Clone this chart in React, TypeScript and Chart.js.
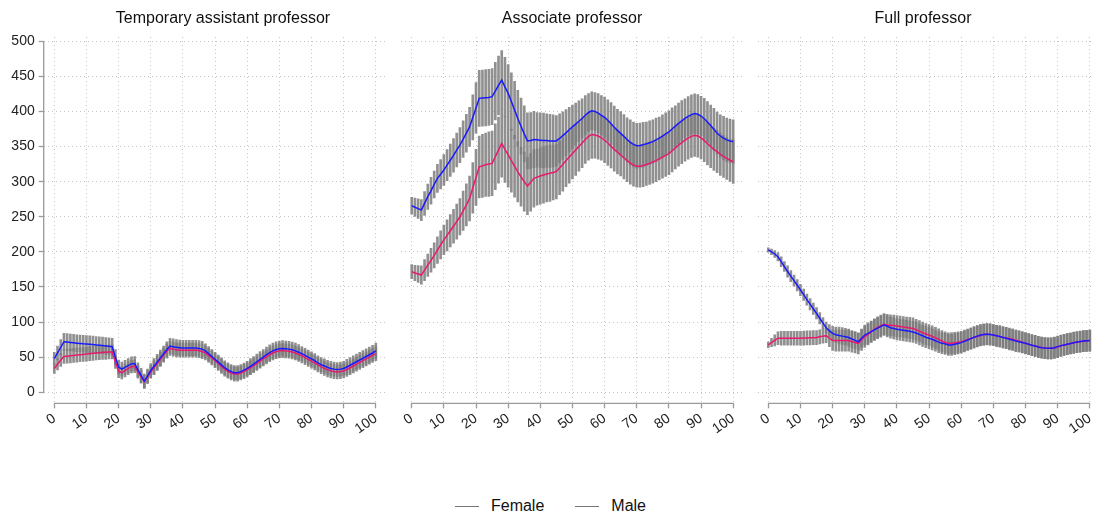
import React, { useEffect, useRef } from "react";
import { Chart, registerables } from "chart.js";

Chart.register(...registerables);

// ---------- data ----------
const xPositions = [
  0, 1, 2, 3, 4, 5, 6, 7, 8, 9, 10, 11, 12, 13, 14, 15, 16, 17, 18, 19, 20,
  21, 22, 23, 24, 25, 26, 27, 28, 29, 30, 31, 32, 33, 34, 35, 36, 37, 38, 39, 40,
  41, 42, 43, 44, 45, 46, 47, 48, 49, 50, 51, 52, 53, 54, 55, 56, 57, 58, 59, 60,
  61, 62, 63, 64, 65, 66, 67, 68, 69, 70, 71, 72, 73, 74, 75, 76, 77, 78, 79, 80,
  81, 82, 83, 84, 85, 86, 87, 88, 89, 90, 91, 92, 93, 94, 95, 96, 97, 98, 99, 100,
];
const xTickValues = [0, 10, 20, 30, 40, 50, 60, 70, 80, 90, 100];
const yTickValues = [0, 50, 100, 150, 200, 250, 300, 350, 400, 450, 500];
const panelTitles = ["Temporary assistant professor", "Associate professor", "Full professor"];
const seriesNames = ["Female", "Male"];

// Panel 1: Temporary assistant professor
const tempFemale = [
  34, 40, 46, 51, 51.5, 52, 52.5, 53, 53.5, 54,
  54.5, 55, 55.5, 56, 56.5, 57, 57, 57.5, 57.5, 43,
  30, 28, 31, 34, 36.5, 37, 29, 22, 15, 21.5,
  29, 35, 41, 47, 53, 58.5, 62.5, 61.5, 60.5, 60,
  60, 60, 60, 60, 60, 59.5, 58, 56, 52.5, 49,
  45, 41, 37, 33, 30, 27.5, 26, 26, 27.5, 29.5,
  32, 35, 38, 41, 44.5, 47.5, 50.5, 53.5, 56, 58,
  59, 59.5, 59, 58.5, 57.5, 56, 54, 52, 49.5, 47,
  44.5, 42, 39, 36.5, 34, 32, 30.5, 29.5, 29, 29.5,
  30.5, 32.5, 35, 37.5, 40, 42.5, 45, 47.5, 50, 52.5,
  55,
];
const tempMale = [
  48, 56, 64, 72, 71.5, 71, 70.5, 70, 69.5, 69,
  68.8, 68.5, 68, 67.5, 67, 66.5, 66, 65.5, 65, 50,
  36, 33, 35.5, 38, 40.5, 41, 32, 24, 16, 23,
  31, 37, 43, 49, 55, 61, 66, 65, 64, 63.5,
  63, 63, 63, 63, 63, 62.5, 61.5, 59, 55, 51,
  47, 43, 39, 35, 32, 29.5, 28, 28, 29.5, 31.5,
  34, 37, 40, 43.5, 47, 50, 53.5, 56.5, 59, 61,
  62, 62.5, 62, 61.5, 60.5, 59, 57, 55, 52.5, 50,
  47.5, 45, 42, 39.5, 37.5, 35.5, 34, 33, 32.5, 33,
  34, 36, 38.5, 41, 43.5, 46, 48.5, 51, 53.5, 56,
  59,
];
const tempFemaleCI = [
  7, 8, 9, 10, 10, 10, 10, 10, 10, 10,
  10, 10, 10, 10, 10, 10, 10, 10, 10, 9,
  9, 9, 9, 9, 9, 9, 9, 9, 9, 9,
  9, 10, 10, 10, 10, 10, 10, 10, 10, 10,
  10, 10, 10, 10, 10, 10, 10, 10, 10, 10,
  10, 10, 10, 10, 10, 10, 10, 10, 10, 10,
  10, 10, 10, 10, 10, 10, 10, 10, 10, 10,
  10, 10, 10, 10, 10, 10, 10, 10, 10, 10,
  10, 10, 10, 10, 10, 10, 10, 10, 10, 10,
  10, 10, 10, 10, 10, 10, 10, 10, 10, 10,
  10,
];
const tempMaleCI = [
  9, 10, 11, 12, 12, 12, 12, 12, 12, 12,
  12, 12, 12, 12, 12, 12, 12, 12, 12, 11,
  10, 10, 10, 10, 10, 10, 10, 10, 10, 10,
  10, 11, 11, 11, 11, 11, 11, 11, 11, 11,
  11, 11, 11, 11, 11, 11, 11, 10, 10, 10,
  10, 10, 10, 10, 10, 10, 10, 10, 10, 10,
  10, 11, 11, 11, 11, 11, 11, 11, 11, 11,
  11, 11, 11, 11, 11, 11, 11, 10, 10, 10,
  10, 10, 10, 10, 10, 10, 10, 10, 10, 10,
  10, 11, 11, 11, 11, 11, 11, 11, 11, 11,
  11,
];

// Panel 2: Associate professor
const assocFemale = [
  171.8, 170, 168.5, 167, 174, 181, 188, 195, 202.5, 210,
  217, 223.5, 230, 236.5, 243, 250, 258.5, 267, 276, 291,
  306, 321, 322.5, 324, 325, 326, 335.5, 345, 354.5, 346,
  338, 330, 322, 314, 307, 300, 293.8, 299, 304.7, 306.5,
  308, 309.5, 311, 312, 313, 314.5, 319.5, 324.5, 330, 335,
  340, 345, 350, 355, 360, 364.5, 367, 366.5, 365, 362.5,
  359, 355, 350.5, 346, 342, 338, 334, 330, 326.5, 323.5,
  322, 322, 323, 324.5, 326, 328, 330, 332.5, 335, 337.5,
  340, 344, 348, 352, 355.5, 359, 362, 364.5, 366, 365,
  362.5, 358.5, 354, 350, 346, 342.7, 339, 336, 333, 330.5,
  328.4,
];
const assocMale = [
  265.8, 263.5, 261.5, 259.6, 269, 278.6, 287, 296, 304.7, 310.5,
  316.6, 323.5, 330.5, 337.5, 345, 352, 360.5, 369, 378, 391.5,
  405, 418.6, 419, 419.5, 420, 421, 429, 437, 444.7, 435,
  425.7, 414, 402, 390, 379, 368, 358, 358.5, 360, 359.5,
  359, 358.5, 358.5, 358, 358, 358, 361.5, 365.5, 369.5, 374,
  378, 382, 386, 390, 394.5, 398.5, 401, 400, 397.5, 394.5,
  391.6, 387.5, 382.5, 377.5, 373, 368.8, 364.5, 360, 356, 353,
  351.2, 351.5, 352.5, 354, 355.5, 357, 359.5, 362, 365, 368,
  371, 375, 379, 383, 386.5, 390, 393, 395.5, 397, 396,
  393.5, 389.5, 385, 380, 374.5, 369, 365, 362, 359.5, 358,
  357,
];
const assocFemaleCI = [
  10, 11, 12, 13, 15, 16, 17, 18, 19, 20,
  21, 22, 23, 24, 25, 26, 28, 30, 32, 36,
  40, 44, 45, 45, 46, 46, 47, 47, 48, 47,
  46, 45, 44, 43, 42, 42, 41, 41, 41, 40,
  40, 40, 40, 40, 39, 39, 38, 38, 37, 37,
  36, 36, 35, 35, 34, 34, 34, 33, 33, 32,
  32, 32, 31, 31, 31, 30, 30, 30, 30, 30,
  30, 30, 30, 30, 30, 30, 30, 30, 30, 30,
  30, 30, 30, 30, 30, 30, 30, 30, 30, 30,
  30, 30, 30, 30, 30, 30, 30, 30, 30, 30,
  31,
];
const assocMaleCI = [
  12, 13, 14, 15, 17, 18, 19, 19, 20, 21,
  22, 22, 23, 24, 24, 25, 26, 27, 28, 32,
  36, 40, 40, 40, 40, 40, 41, 42, 42, 42,
  41, 41, 41, 40, 40, 40, 40, 40, 40, 39,
  39, 39, 38, 38, 37, 36, 35, 34, 33, 32,
  31, 30, 29, 28, 28, 27, 27, 27, 28, 28,
  29, 29, 30, 30, 30, 31, 31, 31, 32, 32,
  32, 32, 32, 31, 31, 31, 31, 30, 30, 30,
  30, 30, 29, 29, 29, 28, 28, 28, 28, 28,
  28, 29, 29, 29, 30, 30, 30, 31, 31, 31,
  31,
];

// Panel 3: Full professor
const fullFemale = [
  67.4, 71, 74, 77, 77, 77, 77, 77, 77, 77,
  77, 77.2, 77.4, 77.6, 77.8, 78, 79, 80, 80.7, 77,
  73.6, 73.6, 73.6, 73.6, 73.6, 73.6, 72, 71, 69.8, 74.5,
  79, 82.5, 86, 89.5, 92.5, 95, 97, 96, 95.5, 95,
  94.4, 93.7, 93, 92.3, 91.6, 91, 89, 87, 85, 83,
  81.6, 79.5, 77.5, 75.5, 73, 71, 69.8, 70, 70.5, 71.2,
  72, 73.5, 75, 76.5, 78, 79.5, 81, 82.3, 83, 82.5,
  81.6, 80.5, 79.5, 78.5, 77.5, 76.5, 75.5, 74, 72.8, 71.3,
  70, 68.5, 67.2, 66, 64.8, 63.8, 63, 62.7, 62.6, 63.2,
  64.5, 66, 67.5, 68.5, 69.5, 70.5, 71.3, 72, 72.8, 73.2,
  73.6,
];
const fullMale = [
  202.7, 200, 197, 193, 186, 179, 172, 165.5, 159, 152.5,
  145.7, 139, 132, 125.5, 119, 112.5, 105.5, 98.5, 92, 87.5,
  84, 82, 81, 80, 79, 78, 76, 74, 72, 77,
  81.6, 84, 86.5, 89, 91.5, 93.5, 96, 94, 92, 91,
  89.7, 89, 88.3, 87.5, 86.8, 86, 84.5, 82.5, 80.5, 78.5,
  77, 75.5, 73.5, 71.5, 70, 69, 67.4, 67.5, 68.5, 69.5,
  70.7, 72.5, 74.5, 76.5, 78.5, 80, 81.5, 82.3, 82.6, 82.3,
  81.6, 80.5, 79.5, 78, 77, 75.5, 74.5, 73, 72, 71,
  69.8, 68.5, 67, 66, 64.5, 63.6, 63, 62.7, 62.6, 63.5,
  65, 66.5, 67.5, 68.5, 69.5, 70.7, 71.5, 72.3, 73, 73.3,
  73.6,
];
const fullFemaleCI = [
  4, 6, 8, 9, 10, 10, 10, 10, 10, 10,
  10, 10, 10, 10, 10, 10, 10, 10, 10, 12,
  14, 15, 15, 15, 15, 15, 15, 15, 15, 15,
  15, 15, 15, 15, 15, 15, 15, 15, 15, 15,
  15, 15, 15, 15, 15, 15, 15, 15, 15, 15,
  15, 15, 15, 15, 15, 15, 15, 15, 15, 15,
  15, 15, 15, 15, 15, 15, 15, 15, 15, 15,
  15, 15, 15, 15, 15, 15, 15, 15, 15, 15,
  15, 15, 15, 15, 15, 15, 15, 15, 15, 15,
  15, 15, 15, 15, 15, 15, 15, 15, 15, 15,
  15,
];
const fullMaleCI = [
  3, 4, 5, 6, 7, 7, 8, 8, 8, 8,
  8, 8, 8, 8, 8, 8, 8, 8, 8, 9,
  10, 11, 12, 12, 12, 12, 12, 12, 12, 13,
  14, 15, 15, 15, 15, 15, 15, 15, 15, 15,
  15, 15, 15, 15, 15, 15, 15, 15, 15, 15,
  15, 15, 15, 15, 15, 15, 15, 15, 15, 15,
  15, 15, 15, 15, 15, 15, 15, 15, 15, 15,
  15, 15, 15, 15, 15, 15, 15, 15, 15, 15,
  15, 15, 15, 15, 15, 15, 15, 15, 15, 15,
  15, 15, 15, 15, 15, 15, 15, 15, 15, 15,
  15,
];

// ---------- style / layout ----------
const FONT = "'Liberation Sans', Arial, Helvetica, sans-serif";
const FEMALE_COLOR = "#e8196e";
const MALE_COLOR = "#1a1aff";
const CI_COLOR = "rgba(125,125,125,0.85)";
const GRID_COLOR = "#c4c4c4";
const AXIS_COLOR = "#9a9a9a";
const TEXT_COLOR = "#222222";

const CANVAS_H = 440;
const PLOT_TOP = 37;
const PLOT_BOTTOM = 403.3;
const X_MIN = -3.3;
const X_MAX = 103.3;
const Y_MIN = -15.66;
const Y_MAX = 506;

const panels = [
  { title: panelTitles[0], female: tempFemale, male: tempMale, femaleCI: tempFemaleCI, maleCI: tempMaleCI,
    left: 0, width: 400, padL: 0, padR: 13.6, showY: true, yWidth: 43.7, titleCenter: 223 },
  { title: panelTitles[1], female: assocFemale, male: assocMale, femaleCI: assocFemaleCI, maleCI: assocMaleCI,
    left: 390, width: 365, padL: 11.1, padR: 11.2, showY: false, yWidth: 0, titleCenter: 572 },
  { title: panelTitles[2], female: fullFemale, male: fullMale, femaleCI: fullFemaleCI, maleCI: fullMaleCI,
    left: 746, width: 365, padL: 11.7, padR: 10.6, showY: false, yWidth: 0, titleCenter: 923 },
];

const axisLinesPlugin = {
  id: "axisLines",
  beforeDatasetsDraw(chart: any, _args: any, opts: any) {
    const { ctx, chartArea, scales } = chart;
    const xs = scales.x;
    const ys = scales.y;
    ctx.save();
    ctx.strokeStyle = AXIS_COLOR;
    ctx.lineWidth = 1.3;
    ctx.setLineDash([]);
    ctx.beginPath();
    ctx.moveTo(xs.getPixelForValue(xTickValues[0]), chartArea.bottom);
    ctx.lineTo(xs.getPixelForValue(xTickValues[xTickValues.length - 1]), chartArea.bottom);
    if (opts && opts.showY) {
      ctx.moveTo(chartArea.left, ys.getPixelForValue(yTickValues[0]));
      ctx.lineTo(chartArea.left, ys.getPixelForValue(yTickValues[yTickValues.length - 1]));
    }
    ctx.stroke();
    ctx.restore();
  },
};

function Panel({ cfg }: { cfg: any }) {
  const ref = useRef<HTMLCanvasElement>(null);
  useEffect(() => {
    if (!ref.current) return;
    const ciData = (mean: number[], hw: number[]) =>
      xPositions.map((x, i) => ({ x, y: [mean[i] - hw[i], mean[i] + hw[i]] }));
    const lineData = (mean: number[]) => xPositions.map((x, i) => ({ x, y: mean[i] }));
    const chart = new Chart(ref.current, {
      type: "line",
      data: {
        datasets: [
          { type: "bar", label: seriesNames[0] + " CI", data: ciData(cfg.female, cfg.femaleCI) as any,
            backgroundColor: CI_COLOR, borderWidth: 0, barThickness: 2, grouped: false, order: 4 } as any,
          { type: "bar", label: seriesNames[1] + " CI", data: ciData(cfg.male, cfg.maleCI) as any,
            backgroundColor: CI_COLOR, borderWidth: 0, barThickness: 2, grouped: false, order: 3 } as any,
          { type: "line", label: seriesNames[0], data: lineData(cfg.female) as any,
            borderColor: FEMALE_COLOR, borderWidth: 1.5, pointRadius: 0, tension: 0, order: 2 },
          { type: "line", label: seriesNames[1], data: lineData(cfg.male) as any,
            borderColor: MALE_COLOR, borderWidth: 1.5, pointRadius: 0, tension: 0, order: 1 },
        ],
      },
      options: {
        responsive: false,
        animation: false,
        devicePixelRatio: 1,
        events: [],
        layout: { padding: { left: cfg.padL, right: cfg.padR, top: PLOT_TOP, bottom: 0 } },
        plugins: {
          legend: { display: false },
          tooltip: { enabled: false },
          title: { display: false },
          axisLines: { showY: cfg.showY },
        } as any,
        scales: {
          x: {
            type: "linear",
            min: X_MIN,
            max: X_MAX,
            offset: false,
            afterBuildTicks: (s: any) => { s.ticks = xTickValues.map((v) => ({ value: v })); },
            afterFit: (s: any) => { s.height = CANVAS_H - PLOT_BOTTOM; },
            border: { display: false, dash: [1, 3] },
            grid: {
              offset: false,
              color: GRID_COLOR, lineWidth: 1,
              drawTicks: true, tickLength: 5, tickColor: AXIS_COLOR, tickWidth: 1.3, tickBorderDash: [],
            },
            ticks: {
              autoSkip: false, minRotation: 35, maxRotation: 35, padding: 2,
              color: TEXT_COLOR, font: { size: 14, family: FONT },
              callback: (v: any) => String(v),
            },
          } as any,
          y: {
            type: "linear",
            min: Y_MIN,
            max: Y_MAX,
            afterBuildTicks: (s: any) => { s.ticks = yTickValues.map((v) => ({ value: v })); },
            afterFit: (s: any) => { s.width = cfg.yWidth; },
            border: { display: false, dash: [1, 3] },
            grid: {
              color: GRID_COLOR, lineWidth: 1,
              drawTicks: cfg.showY, tickLength: cfg.showY ? 5 : 0, tickColor: AXIS_COLOR, tickWidth: 1.3, tickBorderDash: [],
            },
            ticks: {
              display: cfg.showY, padding: 4,
              color: TEXT_COLOR, font: { size: 14, family: FONT },
              callback: (v: any) => String(v),
            },
          } as any,
        },
      },
      plugins: [axisLinesPlugin as any],
    });
    return () => chart.destroy();
  }, []);
  return (
    <canvas
      ref={ref}
      width={cfg.width}
      height={CANVAS_H}
      style={{ position: "absolute", left: cfg.left, top: 0, width: cfg.width, height: CANVAS_H }}
    />
  );
}

export default function App() {
  return (
    <div
      style={{
        position: "fixed", left: 0, top: 0, width: 1093, height: 515, overflow: "hidden",
        background: "#ffffff", fontFamily: FONT,
      }}
    >
      {panels.map((p, i) => (
        <Panel key={i} cfg={p} />
      ))}
      {panels.map((p, i) => (
        <div
          key={"t" + i}
          style={{
            position: "absolute", top: 9, left: p.titleCenter - 200, width: 400, textAlign: "center",
            fontSize: 16, lineHeight: "18px", color: "#111",
          }}
        >
          {p.title}
        </div>
      ))}
      <div
        style={{
          position: "absolute", top: 497, left: 4, width: 1093, height: 18, display: "flex",
          justifyContent: "center", alignItems: "center", fontSize: 16, color: "#111",
        }}
      >
        {seriesNames.map((n, i) => (
          <div key={n} style={{ display: "flex", alignItems: "center", marginLeft: i === 0 ? 0 : 31 }}>
            <span style={{ display: "inline-block", width: 24, height: 0, borderTop: "1.5px solid #777", marginRight: 12 }} />
            <span>{n}</span>
          </div>
        ))}
      </div>
    </div>
  );
}
